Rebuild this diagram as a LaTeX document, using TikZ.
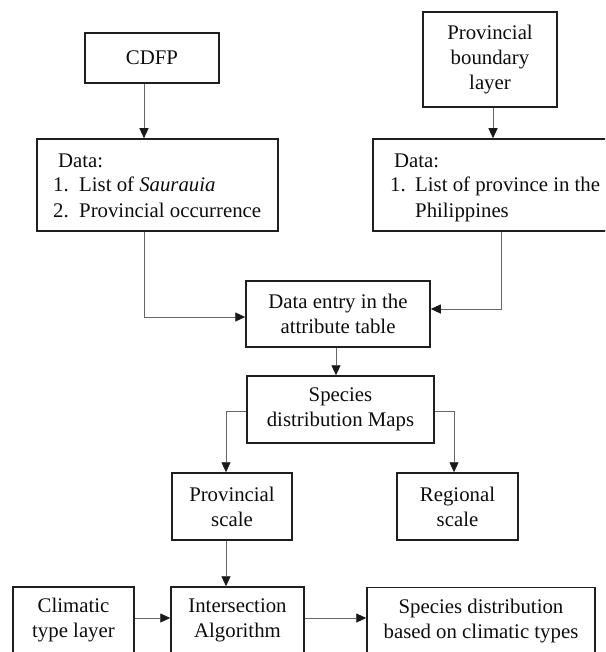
\documentclass[tikz,border=0pt]{standalone}
\usepackage{fontspec}
\setmainfont{Liberation Serif}
\usetikzlibrary{arrows.meta}
\begin{document}
\begin{tikzpicture}[x=1pt,y=-1pt,
  every node/.style={font=\fontsize{20.8}{25}\selectfont, text=black!95},
  box/.style={draw=black!88, line width=1.5pt, rectangle, inner sep=0pt, align=center},
  txt/.style={inner sep=0pt, anchor=base west},
  conn/.style={draw=black!60, line width=0.9pt, -{Triangle[length=10pt,width=9pt,color=black!90]}}]
\useasboundingbox (0,0) rectangle (605,652);
\clip (0,0) rectangle (605,652);
% boxes
\node[box, minimum width=134pt, minimum height=50pt] (cdfp) at (152,58) {CDFP};
\node[box, minimum width=134pt, minimum height=95pt] (pbl) at (490,59.5) {Provincial\\boundary\\layer};
\node[box, minimum width=241pt, minimum height=92pt] (dataL) at (157.5,185) {};
\node[box, minimum width=241pt, minimum height=92pt] (dataR) at (493.5,185) {};
\node[box, minimum width=184pt, minimum height=66pt] (entry) at (338,314) {Data entry in the\\attribute table};
\node[box, minimum width=187pt, minimum height=67pt] (maps) at (340.5,409.5) {Species\\distribution Maps};
\node[box, minimum width=120pt, minimum height=67pt] (prov) at (232,506.5) {Provincial\\scale};
\node[box, minimum width=121pt, minimum height=67pt] (reg) at (457.5,506.5) {Regional\\scale};
\node[box, minimum width=121pt, minimum height=67pt] (clim) at (73.5,620.5) {Climatic\\type layer};
\node[box, minimum width=133pt, minimum height=67pt] (inter) at (237.5,620.5) {Intersection\\Algorithm};
\node[box, minimum width=228pt, minimum height=67pt] (sdist) at (481,621) {Species distribution\\based on climatic types};
% texts in data boxes
\node[txt] (dl0) at (58,168) {Data:};
\node[txt] (dl1n) at (53,192) {1.};
\node[txt] (dl1) at (79,192) {List of \textit{Saurauia}};
\node[txt] (dl2n) at (53,217) {2.};
\node[txt] (dl2) at (79,217) {Provincial occurrence};
\node[txt] (dr0) at (394,168) {Data:};
\node[txt] (dr1n) at (390,192) {1.};
\node[txt] (dr1) at (415,192) {List of province in the};
\node[txt] (dr2) at (415,217) {Philippines};
% connectors
\draw[conn] ([xshift=-8pt]cdfp.south) -- ([xshift=-8pt]cdfp.south |- dataL.north);
\draw[conn] ([xshift=3pt]pbl.south) -- ([xshift=3pt]pbl.south |- dataR.north);
\draw[conn] ([xshift=-13.5pt]dataL.south) |- ([yshift=-3pt]entry.west);
\draw[conn] ([xshift=7.5pt]dataR.south) |- ([yshift=5pt]entry.east);
\draw[conn] ([xshift=-2pt]entry.south) -- ([xshift=-2pt]entry.south |- maps.north);
\draw[conn] ([yshift=-1.5pt]maps.west) -| ([xshift=-6pt]prov.north);
\draw[conn] ([yshift=-1.5pt]maps.east) -| ([xshift=-3.5pt]reg.north);
\draw[conn] ([xshift=-6pt]prov.south) -- ([xshift=-6pt]prov.south |- inter.north);
\draw[conn] ([yshift=2.5pt]clim.east) -- ([yshift=2.5pt]clim.east -| inter.west);
\draw[conn] ([yshift=2.5pt]inter.east) -- ([yshift=2.5pt]inter.east -| sdist.west);
\end{tikzpicture}
\end{document}
